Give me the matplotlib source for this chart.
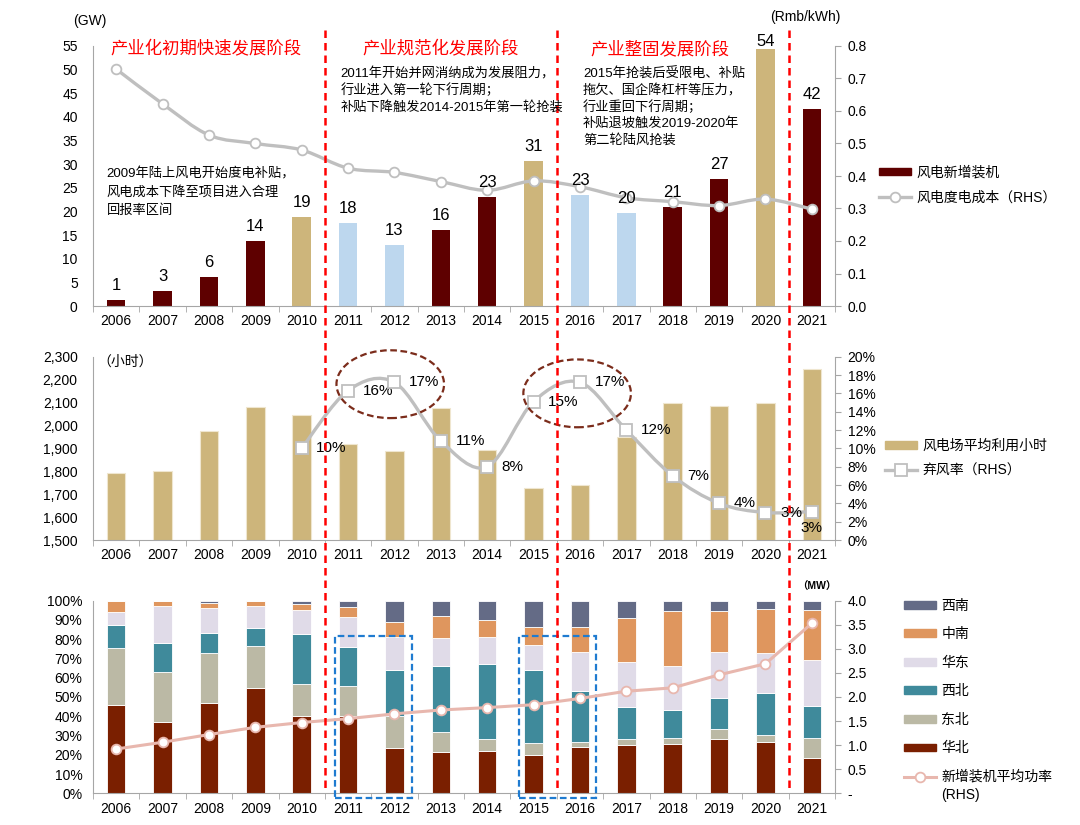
import matplotlib.pyplot as plt
import matplotlib.transforms as mtransforms
from matplotlib.patches import Ellipse, Rectangle, PathPatch, Patch
from matplotlib.lines import Line2D
from matplotlib.path import Path
from matplotlib.ticker import FuncFormatter
import numpy as np

plt.rcParams['font.family'] = ['Liberation Sans', 'Noto Sans CJK SC']
plt.rcParams['axes.unicode_minus'] = False

# ---- data ----
years = [str(y) for y in range(2006, 2022)]

# top: new installations (GW) and LCOE (Rmb/kWh)
new_install = [1.3, 3.2, 6.2, 13.8, 18.9, 17.6, 12.9, 16.1, 23.1, 30.7, 23.4, 19.7, 21.0, 26.8, 54.3, 41.6]
install_labels = ['1', '3', '6', '14', '19', '18', '13', '16', '23', '31', '23', '20', '21', '27', '54', '42']
bar_kind = ['d', 'd', 'd', 'd', 't', 'b', 'b', 'd', 'd', 't', 'b', 'b', 'd', 'd', 't', 'd']
lcoe = [0.729, 0.622, 0.526, 0.500, 0.480, 0.424, 0.411, 0.383, 0.356, 0.385, 0.367, 0.333, 0.321, 0.309, 0.329, 0.298]

# middle: utilisation hours and curtailment rate (%)
util_hours = [1791, 1802, 1977, 2079, 2047, 1919, 1888, 2075, 1893, 1728, 1741, 1948, 2096, 2083, 2096, 2247]
curtail_start = 4  # curtailment series starts in 2010
curtail = [10.0, 16.3, 17.2, 10.8, 8.0, 15.1, 17.2, 12.0, 7.0, 4.0, 3.0, 3.1]
curtail_labels = ['10%', '16%', '17%', '11%', '8%', '15%', '17%', '12%', '7%', '4%', '3%', '3%']

# bottom: regional share of new installations (%) and average turbine size (MW)
regions = ['华北', '东北', '西北', '华东', '中南', '西南']
north = [46.0, 37.2, 46.9, 54.5, 40.0, 40.0, 23.7, 21.6, 22.0, 19.9, 24.0, 24.9, 25.8, 28.0, 26.8, 18.3]
northeast = [29.3, 25.9, 26.1, 22.0, 16.7, 15.9, 16.6, 10.2, 6.0, 6.1, 2.8, 3.1, 3.1, 5.4, 3.6, 10.6]
northwest = [12.2, 14.8, 10.0, 9.1, 25.8, 20.0, 23.9, 34.1, 39.1, 38.0, 26.3, 17.0, 14.4, 16.3, 21.5, 16.4]
east = [6.8, 19.5, 13.2, 11.6, 12.5, 15.8, 17.1, 14.9, 14.0, 13.2, 20.1, 23.0, 23.0, 23.7, 20.9, 23.9]
central_south = [5.7, 2.6, 2.8, 2.5, 3.3, 4.8, 7.6, 11.2, 9.0, 9.0, 13.0, 23.2, 28.3, 21.1, 22.9, 26.0]
southwest = [0.0, 0.0, 1.0, 0.3, 1.7, 3.5, 11.1, 8.0, 9.9, 13.8, 13.8, 8.8, 5.4, 5.5, 4.3, 4.8]
avg_power = [0.92, 1.06, 1.22, 1.37, 1.47, 1.55, 1.65, 1.73, 1.78, 1.84, 1.97, 2.12, 2.19, 2.46, 2.69, 3.53]

stage_titles = ['产业化初期快速发展阶段', '产业规范化发展阶段', '产业整固发展阶段']
note_2009 = ['2009年陆上风电开始度电补贴，', '风电成本下降至项目进入合理', '回报率区间']
note_2011 = ['2011年开始并网消纳成为发展阻力，', '行业进入第一轮下行周期；', '补贴下降触发2014-2015年第一轮抢装']
note_2015 = ['2015年抢装后受限电、补贴', '拖欠、国企降杠杆等压力，', '行业重回下行周期；',
             '补贴退坡触发2019-2020年', '第二轮陆风抢装']

# ---- colours ----
maroon = '#5E0000'
tan = '#CDB57B'
light_blue = '#BDD7EE'
grey_line = '#BFBFBF'
axis_grey = '#A6A6A6'
region_colors = ['#7A1F00', '#BBB9A5', '#3F8A9B', '#E0DBE8', '#DF965E', '#646B86']
pink = '#E8B7AE'
kind_color = {'d': maroon, 't': tan, 'b': light_blue}

W, H = 1080, 825
fig = plt.figure(figsize=(10.8, 8.25), dpi=100)
x = np.arange(len(years))


def smooth_line(ax, xs, ys, **kw):
    # Catmull-Rom style smoothing like Excel "smoothed line", drawn as bezier path
    pts = np.column_stack([xs, ys]).astype(float)
    n = len(pts)
    verts = [tuple(pts[0])]
    codes = [Path.MOVETO]
    for i in range(n - 1):
        p0 = pts[max(i - 1, 0)]
        p1 = pts[i]
        p2 = pts[i + 1]
        p3 = pts[min(i + 2, n - 1)]
        c1 = p1 + (p2 - p0) / 6.0
        c2 = p2 - (p3 - p1) / 6.0
        verts += [tuple(c1), tuple(c2), tuple(p2)]
        codes += [Path.CURVE4] * 3
    ax.add_patch(PathPatch(Path(verts, codes), fill=False, **kw))


def style_axes(ax, axr, ypad):
    ax.set_xlim(-0.5, 15.5)
    for a in (ax, axr):
        a.spines['top'].set_visible(False)
        for s in ('left', 'right', 'bottom'):
            a.spines[s].set_color(axis_grey)
    ax.spines['right'].set_visible(False)
    axr.spines['left'].set_visible(False)
    axr.spines['bottom'].set_visible(False)
    ax.set_xticks(x)
    ax.set_xticklabels(years)
    ax.set_xticks(np.arange(-0.5, 16, 1), minor=True)
    ax.tick_params(axis='x', which='major', length=0, pad=6, labelsize=10)
    ax.tick_params(axis='x', which='minor', length=4, color=axis_grey)
    ax.tick_params(axis='y', length=0, pad=ypad, labelsize=10)
    axr.tick_params(axis='y', length=4, color=axis_grey, pad=5, labelsize=10)


# ---------------- top panel ----------------
ax1 = fig.add_axes([93 / W, 1 - 306 / H, 742 / W, 260 / H])
ax1r = ax1.twinx()
style_axes(ax1, ax1r, 11)
ax1.bar(x, new_install, width=0.4, color=[kind_color[k] for k in bar_kind], zorder=2)
ax1.set_ylim(0, 55)
ax1.set_yticks(np.arange(0, 56, 5))
ax1r.set_ylim(0, 0.8)
ax1r.set_yticks(np.arange(0, 0.81, 0.1))
ax1r.yaxis.set_major_formatter(FuncFormatter(lambda v, p: f'{v:.1f}'))
smooth_line(ax1r, x, lcoe, ec=grey_line, lw=2.4, zorder=3)
ax1r.plot(x, lcoe, ls='none', marker='o', ms=7, mfc='white', mec=grey_line, mew=1.3, zorder=4)
for i, (v, s) in enumerate(zip(new_install, install_labels)):
    off = 5 if v < 50 else 0.5  # keep the tallest label inside the plot area
    ax1r.annotate(s, xy=(i, v), xycoords=ax1.transData, xytext=(0, off), textcoords='offset points',
                  ha='center', va='bottom', fontsize=12, zorder=5)

# ---------------- middle panel ----------------
ax2 = fig.add_axes([93 / W, 1 - 540 / H, 742 / W, 183.3 / H])
ax2r = ax2.twinx()
style_axes(ax2, ax2r, 11)
ax2.bar(x, util_hours, width=0.4, color=tan, edgecolor='#EFE6CF', lw=0.8, zorder=2)
ax2.set_ylim(1500, 2300)
ax2.set_yticks(np.arange(1500, 2301, 100))
ax2.yaxis.set_major_formatter(FuncFormatter(lambda v, p: f'{int(v):,}'))
ax2r.set_ylim(0, 20)
ax2r.set_yticks(np.arange(0, 21, 2))
ax2r.yaxis.set_major_formatter(FuncFormatter(lambda v, p: f'{int(v)}%'))
cx = x[curtail_start:]
smooth_line(ax2r, cx, curtail, ec=grey_line, lw=2.4, zorder=3)
ax2r.plot(cx, curtail, ls='none', marker='s', ms=8, mfc='white', mec=grey_line, mew=1.3, zorder=4)
for j, (xi, v, s) in enumerate(zip(cx, curtail, curtail_labels)):
    if j == len(curtail) - 1:
        ax2r.annotate(s, xy=(xi, v), xytext=(0, -7), textcoords='offset points',
                      ha='center', va='top', fontsize=11)
    else:
        ax2r.annotate(s, xy=(xi, v), xytext=(10.5, 0), textcoords='offset points',
                      ha='left', va='center', fontsize=11)
for cxe, cye in [(5.91, 17.0), (9.94, 16.0)]:
    ax2r.add_patch(Ellipse((cxe, cye), width=2.32, height=7.4, fill=False, ec='#7B2C1B',
                           lw=1.6, ls=(0, (3, 1.6)), clip_on=False, zorder=5))

# ---------------- bottom panel ----------------
ax3 = fig.add_axes([93 / W, 1 - 793.3 / H, 742 / W, 192.6 / H])
ax3r = ax3.twinx()
style_axes(ax3, ax3r, 7.5)
shares = [north, northeast, northwest, east, central_south, southwest]
bottom = np.zeros(len(years))
for name, vals, col in zip(regions, shares, region_colors):
    ax3.bar(x, vals, width=0.4, bottom=bottom, color=col, edgecolor='white', lw=0.6, zorder=2)
    bottom += np.array(vals)
ax3.set_ylim(0, 100)
ax3.set_yticks(np.arange(0, 101, 10))
ax3.yaxis.set_major_formatter(FuncFormatter(lambda v, p: f'{int(v)}%'))
ax3r.set_ylim(0, 4)
ax3r.set_yticks(np.arange(0, 4.01, 0.5))
ax3r.yaxis.set_major_formatter(FuncFormatter(lambda v, p: '-' if v == 0 else f'{v:.1f}'))
ax3r.plot(x, avg_power, color=pink, lw=2.2, marker='o', ms=7, mfc='white', mec=pink, mew=1.3, zorder=4)
for rx in (4.71, 8.68):
    ax3.add_patch(Rectangle((rx, -2.6), 1.67, 84.2, fill=False, ec='#1F7BD0', lw=1.6,
                            ls=(0, (3, 1.6)), clip_on=False, zorder=6))

# ---------------- stage dividers ----------------
trans = mtransforms.blended_transform_factory(ax1.transData, fig.transFigure)
for bx in (4.5, 9.5, 14.5):
    fig.add_artist(Line2D([bx, bx], [1 - 30 / H, 1 - 788 / H], transform=trans, color='#FF0000',
                          lw=1.8, ls=(0, (3, 2))))


# ---------------- texts ----------------
def ftext(px_x, px_y, s, **kw):
    fig.text(px_x / W, 1 - px_y / H, s, **kw)


def note(px_x, px_y, lines, step):
    for k, line in enumerate(lines):
        ftext(px_x, px_y + k * step, line, ha='left', va='center', fontsize=9.5)


ftext(89.5, 20.7, '(GW)', ha='center', va='center', fontsize=10)
ftext(805, 16.7, '(Rmb/kWh)', ha='center', va='center', fontsize=10)
ftext(125, 361.7, '（小时）', ha='center', va='center', fontsize=10)
ftext(817, 587.3, '（MW）', ha='center', va='center', fontsize=7.5, fontweight='bold')
for cxp, s in zip([206, 441, 660], stage_titles):
    ftext(cxp, 49, s, ha='center', va='center', fontsize=12.5, color='#FF0000')
note(106.7, 174.3, note_2009, 18)
note(340.2, 74, note_2011, 16.5)
note(583, 74, note_2015, 16.5)

# ---------------- legends ----------------
leg_kw = dict(frameon=False, borderpad=0, borderaxespad=0, fontsize=10, handlelength=2.3,
              handletextpad=0.4, bbox_transform=fig.transFigure)
h1 = [Patch(color=maroon), Line2D([], [], color=grey_line, lw=2.4, marker='o', ms=7, mfc='white',
                                  mec=grey_line, mew=1.3)]
fig.legend(h1, ['风电新增装机', '风电度电成本（RHS）'], loc='center left',
           bbox_to_anchor=(879 / W, 1 - 185 / H), handleheight=0.5, labelspacing=0.8, **leg_kw)
h2 = [Patch(color=tan), Line2D([], [], color=grey_line, lw=2.4, marker='s', ms=8, mfc='white',
                               mec=grey_line, mew=1.3)]
fig.legend(h2, ['风电场平均利用小时', '弃风率（RHS）'], loc='center left',
           bbox_to_anchor=(885 / W, 1 - 458 / H), handleheight=0.5, labelspacing=0.75, **leg_kw)
h3 = [Patch(color=c) for c in region_colors[::-1]]
fig.legend(h3, regions[::-1], loc='center left',
           bbox_to_anchor=(904 / W, 1 - 677 / H), handleheight=0.5, labelspacing=1.05, **leg_kw)
# last entry (two-line label) placed by hand so the handle sits on the first line
fig.add_artist(Line2D([904 / W, 936 / W], [1 - 777 / H, 1 - 777 / H], color=pink, lw=2.2))
fig.add_artist(Line2D([920 / W], [1 - 777 / H], ls='none', marker='o', ms=7, mfc='white',
                      mec=pink, mew=1.3))
ftext(941, 777, '新增装机平均功率', ha='left', va='center', fontsize=10)
ftext(941, 795, '(RHS)', ha='left', va='center', fontsize=10)

fig.savefig('out.png', dpi=100)
